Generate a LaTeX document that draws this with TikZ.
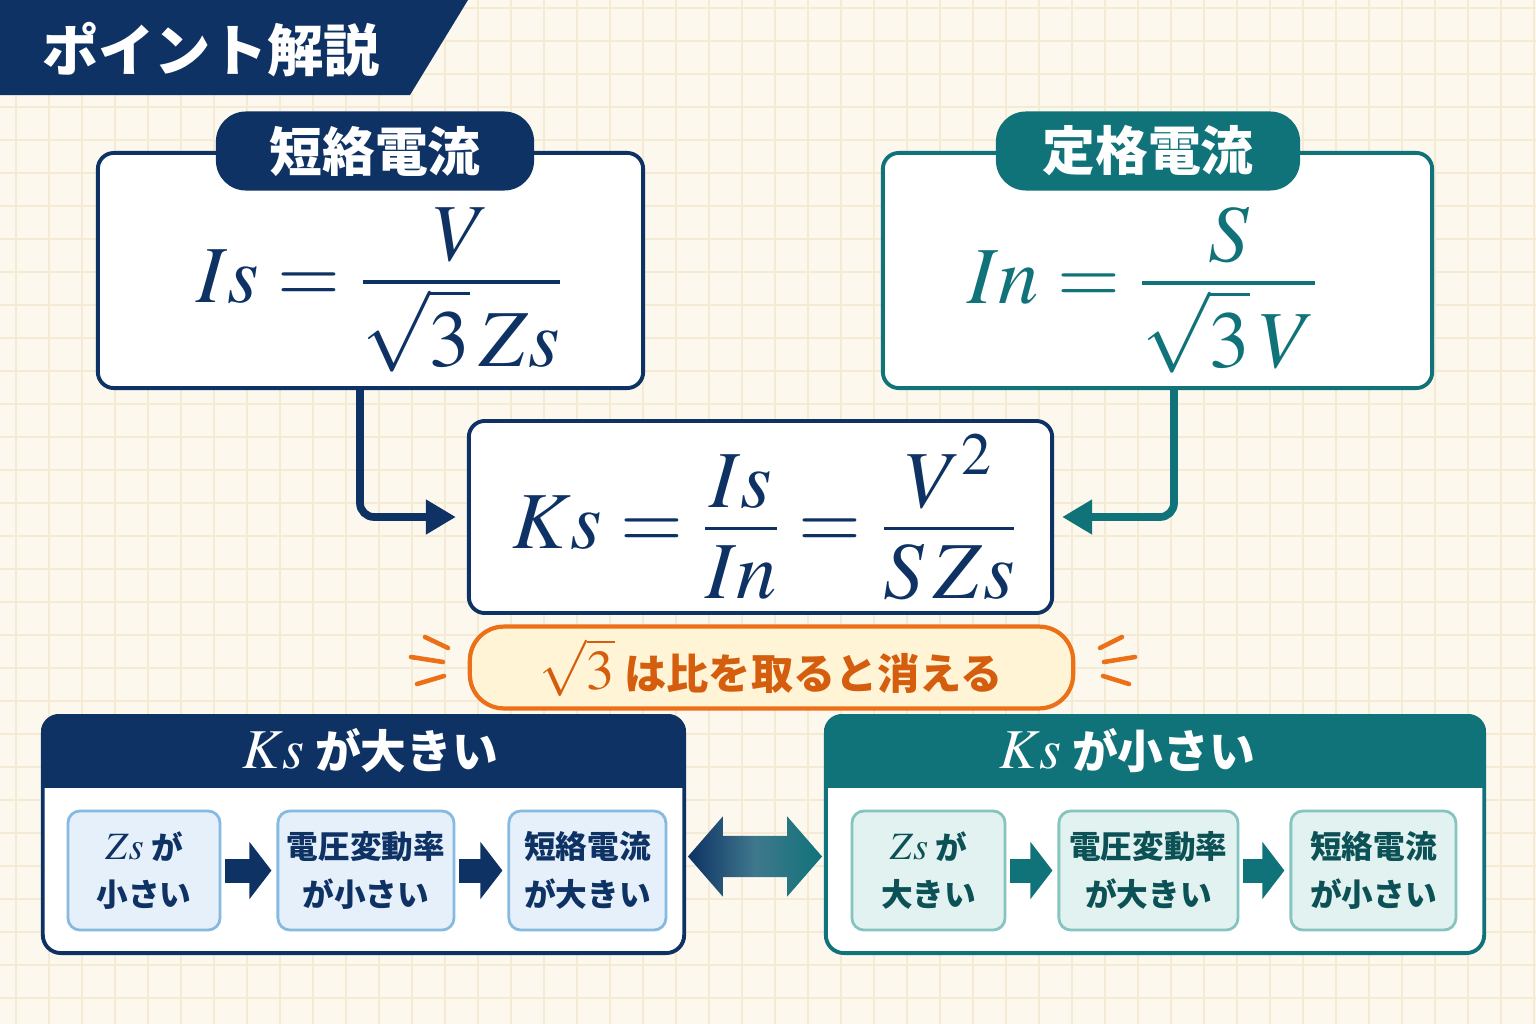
\documentclass[tikz,border=0pt]{standalone}
\usepackage{mathptmx}
\usepackage{fontspec}
\newfontfamily\jp{Noto Sans CJK JP}
\usetikzlibrary{arrows.meta,positioning,calc,shapes.arrows}
\definecolor{kdnavy}{RGB}{14,50,100}
\definecolor{kdteal}{RGB}{16,115,121}
\definecolor{kdorange}{RGB}{236,112,24}
\definecolor{kdoratext}{RGB}{212,94,14}
\definecolor{kdpaper}{RGB}{252,248,237}
\definecolor{kdgrid}{RGB}{245,235,212}
\definecolor{kdcream}{RGB}{255,244,214}
\definecolor{kdskyfill}{RGB}{229,240,250}
\definecolor{kdskyline}{RGB}{135,186,224}
\definecolor{kdmintfill}{RGB}{226,242,240}
\definecolor{kdmintline}{RGB}{134,196,192}
% fraction with full-size parts and a little air round the bar
\newcommand\kdfrac[3][0.98em]{{\textstyle\frac{\displaystyle #2\rule[-0.2em]{0pt}{0.2em}}%
  {\displaystyle\rule{0pt}{#1}#3}}}

\begin{document}
\begin{tikzpicture}[x=0.01cm, y=-0.01cm,
  fbox/.style={draw=#1, line width=1.1pt, rounded corners=0.16cm, fill=white,
               minimum height=2.35cm},
  tab/.style={fill=#1, rounded corners=0.3cm, minimum height=0.79cm, text=white,
              font=\jp\bfseries\fontsize{15}{18}\selectfont},
  fml/.style={text=#1, font=\fontsize{23}{28}\selectfont},
  link/.style={draw=#1, line width=2.2pt, rounded corners=0.14cm,
               -{Triangle[length=0.3cm,width=0.33cm]}},
  panel/.style={draw=#1, line width=1.1pt, rounded corners=0.18cm, fill=white,
                minimum height=2.37cm},
  phead/.style={text=white, font=\jp\bfseries\fontsize{13}{16}\selectfont},
  stepbox/.style={line width=0.8pt, rounded corners=0.12cm, minimum height=1.19cm,
                  align=center, inner sep=0pt,
                  font=\jp\bfseries\fontsize{9}{13.5}\selectfont},
  navystep/.style={stepbox, draw=kdskyline, fill=kdskyfill, text=kdnavy},
  tealstep/.style={stepbox, draw=kdmintline, fill=kdmintfill, text=kdteal!70!black},
  blk/.style={draw=#1, line width=0.24cm, -{Triangle[length=0.22cm,width=0.56cm]},
              shorten <=0.04cm, shorten >=0.05cm},
  spark/.style={draw=kdorange, line width=1.3pt, line cap=round}
]
% paper and grid
\fill[kdpaper] (0,0) rectangle (1536,1024);
\useasboundingbox (0,0) rectangle (1536,1024);
\foreach \gx in {16,49,...,1536} \draw[kdgrid, line width=0.4pt] (\gx,0) -- (\gx,1024);
\foreach \gy in {8,41,...,1024} \draw[kdgrid, line width=0.4pt] (0,\gy) -- (1536,\gy);

% title banner
\fill[kdnavy] (0,0) -- (468,0) -- (410,95) -- (0,95) -- cycle;
\node[text=white, font=\jp\bfseries\fontsize{16}{19}\selectfont] (title) at (211,50) {ポイント解説};

% the two formula boxes
\node[fbox=kdnavy, minimum width=5.45cm] (isbox) at (370.5,270.5) {};
\node[tab=kdnavy, minimum width=3.18cm] (istab) at ([xshift=0.045cm]isbox.north) {短絡電流};
\node[fml=kdnavy] (isfml) at ([xshift=0.1cm,yshift=-0.2cm]isbox.center)
      {$\displaystyle Is=\kdfrac{V}{\sqrt{3}\,Zs}$};

\node[fbox=kdteal, minimum width=5.49cm] (inbox) at (1157.5,270.5) {};
\node[tab=kdteal, minimum width=3.04cm] (intab) at ([xshift=-0.095cm]inbox.north) {定格電流};
\node[fml=kdteal] (infml) at ([xshift=-0.14cm,yshift=-0.2cm]inbox.center)
      {$\displaystyle In=\kdfrac{S}{\sqrt{3}\,V}$};

% ratio box
\node[fbox=kdnavy, minimum width=5.83cm, minimum height=1.92cm] (ksbox) at (760.5,517) {};
\node[text=kdnavy, font=\fontsize{23}{28}\selectfont] (ksfml) at ([xshift=0.05cm]ksbox.center)
      {$\displaystyle Ks=\kdfrac[0.8em]{Is}{In}=\kdfrac[0.8em]{V^2}{S\,Zs}$};

\draw[link=kdnavy, shorten >=0.11cm] ([xshift=-0.105cm]isbox.south) |- (ksbox.west);
\draw[link=kdteal, shorten >=0.08cm] ([xshift=0.165cm]inbox.south) |- (ksbox.east);

% note
\node[draw=kdorange, line width=1.2pt, fill=kdcream, rounded corners=0.34cm,
      minimum width=6.03cm, minimum height=0.69cm, text=kdoratext,
      font=\jp\bfseries\fontsize{12}{14}\selectfont] (note) at (771.5,667.5)
      {{\fontsize{16}{18}\selectfont$\sqrt{3}$}\ は比を取ると消える};
\draw[spark] (425,637) -- (448,648);
\draw[spark] (411,657) -- (443,662);
\draw[spark] (417,684) -- (444,676);
\draw[spark] (1100,648) -- (1122,637);
\draw[spark] (1104,662) -- (1135,657);
\draw[spark] (1103,676) -- (1129,684);

% Ks large / small panels
\node[panel=kdnavy, minimum width=6.41cm] (kbig) at (363.5,834.5) {};
\node[panel=kdteal, minimum width=6.58cm] (ksmall) at (1155,834.5) {};
\begin{scope}
  \clip[rounded corners=0.18cm] (kbig.south west) rectangle (kbig.north east);
  \fill[kdnavy] (kbig.north west) rectangle ([yshift=-0.74cm]kbig.north east);
\end{scope}
\begin{scope}
  \clip[rounded corners=0.18cm] (ksmall.south west) rectangle (ksmall.north east);
  \fill[kdteal] (ksmall.north west) rectangle ([yshift=-0.74cm]ksmall.north east);
\end{scope}
\node[phead] (bighd) at ([xshift=0.065cm,yshift=-0.37cm]kbig.north)
      {{\fontsize{16}{18}\selectfont$Ks$} が大きい};
\node[phead] (smallhd) at ([xshift=-0.28cm,yshift=-0.37cm]ksmall.north)
      {{\fontsize{16}{18}\selectfont$Ks$} が小さい};

\node[navystep, minimum width=1.52cm] (zb1) at (144,870.5)
      {{\fontsize{11}{13}\selectfont$Zs$} が\\小さい};
\node[navystep, minimum width=1.76cm, right=0.55cm of zb1] (vb1) {電圧変動率\\が小さい};
\node[navystep, minimum width=1.57cm, right=0.52cm of vb1] (sb1) {短絡電流\\が大きい};
\draw[blk=kdnavy] (zb1) -- (vb1);
\draw[blk=kdnavy] (vb1) -- (sb1);

\node[tealstep, minimum width=1.53cm] (zb2) at (928.5,870.5)
      {{\fontsize{11}{13}\selectfont$Zs$} が\\大きい};
\node[tealstep, minimum width=1.79cm, right=0.51cm of zb2] (vb2) {電圧変動率\\が大きい};
\node[tealstep, minimum width=1.65cm, right=0.5cm of vb2] (sb2) {短絡電流\\が小さい};
\draw[blk=kdteal] (zb2) -- (vb2);
\draw[blk=kdteal] (vb2) -- (sb2);

% two-way arrow between the panels
\node[double arrow, double arrow head extend=0.195cm, double arrow tip angle=98,
      minimum height=1.34cm, inner xsep=0pt, inner ysep=0.2cm,
      left color=kdnavy, right color=kdteal, middle color=kdteal!55!kdnavy!80!white]
      (swap) at ($(kbig.east)!0.5!(ksmall.west)+(0,22)$) {};
\end{tikzpicture}
\end{document}
